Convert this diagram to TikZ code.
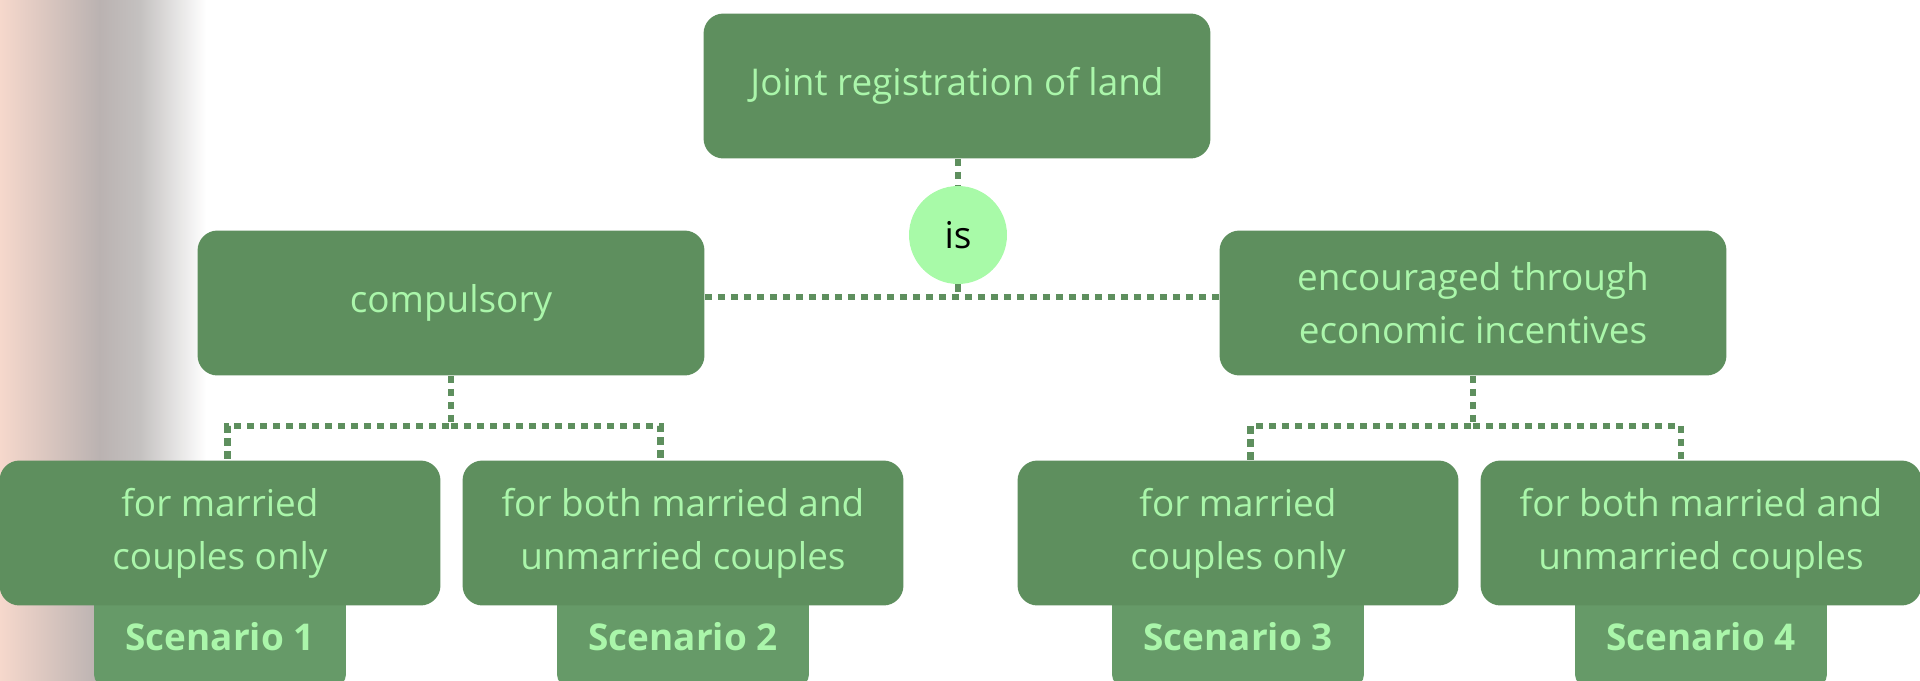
\documentclass[tikz,border=0pt]{standalone}
\usepackage{fontspec}
\setmainfont{Open Sans}
\usetikzlibrary{positioning}
\definecolor{boxgreen}{RGB}{94,143,94}
\definecolor{tabgreen}{RGB}{102,154,104}
\definecolor{textgreen}{RGB}{170,246,170}
\definecolor{bubble}{RGB}{168,250,168}
\definecolor{peach}{RGB}{246,216,204}
\definecolor{fadegrey}{RGB}{186,178,177}
\definecolor{lightgrey}{RGB}{196,193,192}
\tikzset{
  topic/.style  = {fill=boxgreen, rounded corners=0.4cm, text=textgreen, align=center,
                   minimum width=10.14cm, minimum height=2.9cm, inner sep=0pt,
                   font=\fontsize{21}{30}\selectfont},
  choice/.style = {topic, minimum width=8.82cm},
  tabbox/.style = {fill=tabgreen, rounded corners=0.25cm, text=textgreen,
                   minimum width=5.04cm, minimum height=2cm, inner sep=0pt,
                   font=\fontsize{21}{30}\selectfont\bfseries},
  verb/.style   = {circle, fill=bubble, minimum size=1.96cm, inner sep=0pt,
                   font=\fontsize{21}{30}\selectfont},
  link/.style   = {boxgreen, line width=3.6pt, dash pattern=on 4.2pt off 3.2pt},
}

\begin{document}
\begin{tikzpicture}[x=0.02cm, y=-0.02cm]
\useasboundingbox (0,0) rectangle (1920,680);
\clip (0,0) rectangle (1920,680);
\shade[left color=peach, right color=fadegrey] (0,0) rectangle (100,680);
\shade[left color=fadegrey, right color=lightgrey] (99.5,0) rectangle (140,680);
\shade[left color=lightgrey, right color=white] (139.5,0) rectangle (206,680);

\node[tabbox] (s1) at (220,637)  {Scenario 1};
\node[tabbox] (s2) at (683,637)  {Scenario 2};
\node[tabbox] (s3) at (1238,637) {Scenario 3};
\node[tabbox] (s4) at (1701,637) {Scenario 4};

\node[topic]  (land) at (957,86)   {Joint registration of land};
\node[verb]   (is)   at (958,235)  {is};
\node[topic]  (comp) at (451,303)  {compulsory};
\node[topic]  (enc)  at (1473,303) {encouraged through\\economic incentives};

\node[choice] (c1) at (220,533)  {for married\\couples only};
\node[choice] (c2) at (683,533)  {for both married and\\unmarried couples};
\node[choice] (c3) at (1238,533) {for married\\couples only};
\node[choice] (c4) at (1701,533) {for both married and\\unmarried couples};

\draw[link] (land.south -| is) -- (is);
\draw[link] ([yshift=0.12cm]comp.east) -- ([yshift=0.12cm]enc.west) coordinate[pos=0.5] (hj);
\draw[link] (is) -- (is |- hj);

\draw[link] (comp.south) -- ++(0,50) coordinate (lj) -| ([xshift=0.15cm]c1.north);
\draw[link] (lj) -| ([xshift=-0.45cm]c2.north);
\draw[link] (enc.south) -- ++(0,50) coordinate (rj) -| ([xshift=0.25cm]c3.north);
\draw[link] (rj) -| ([xshift=-0.4cm]c4.north);
\end{tikzpicture}
\end{document}
